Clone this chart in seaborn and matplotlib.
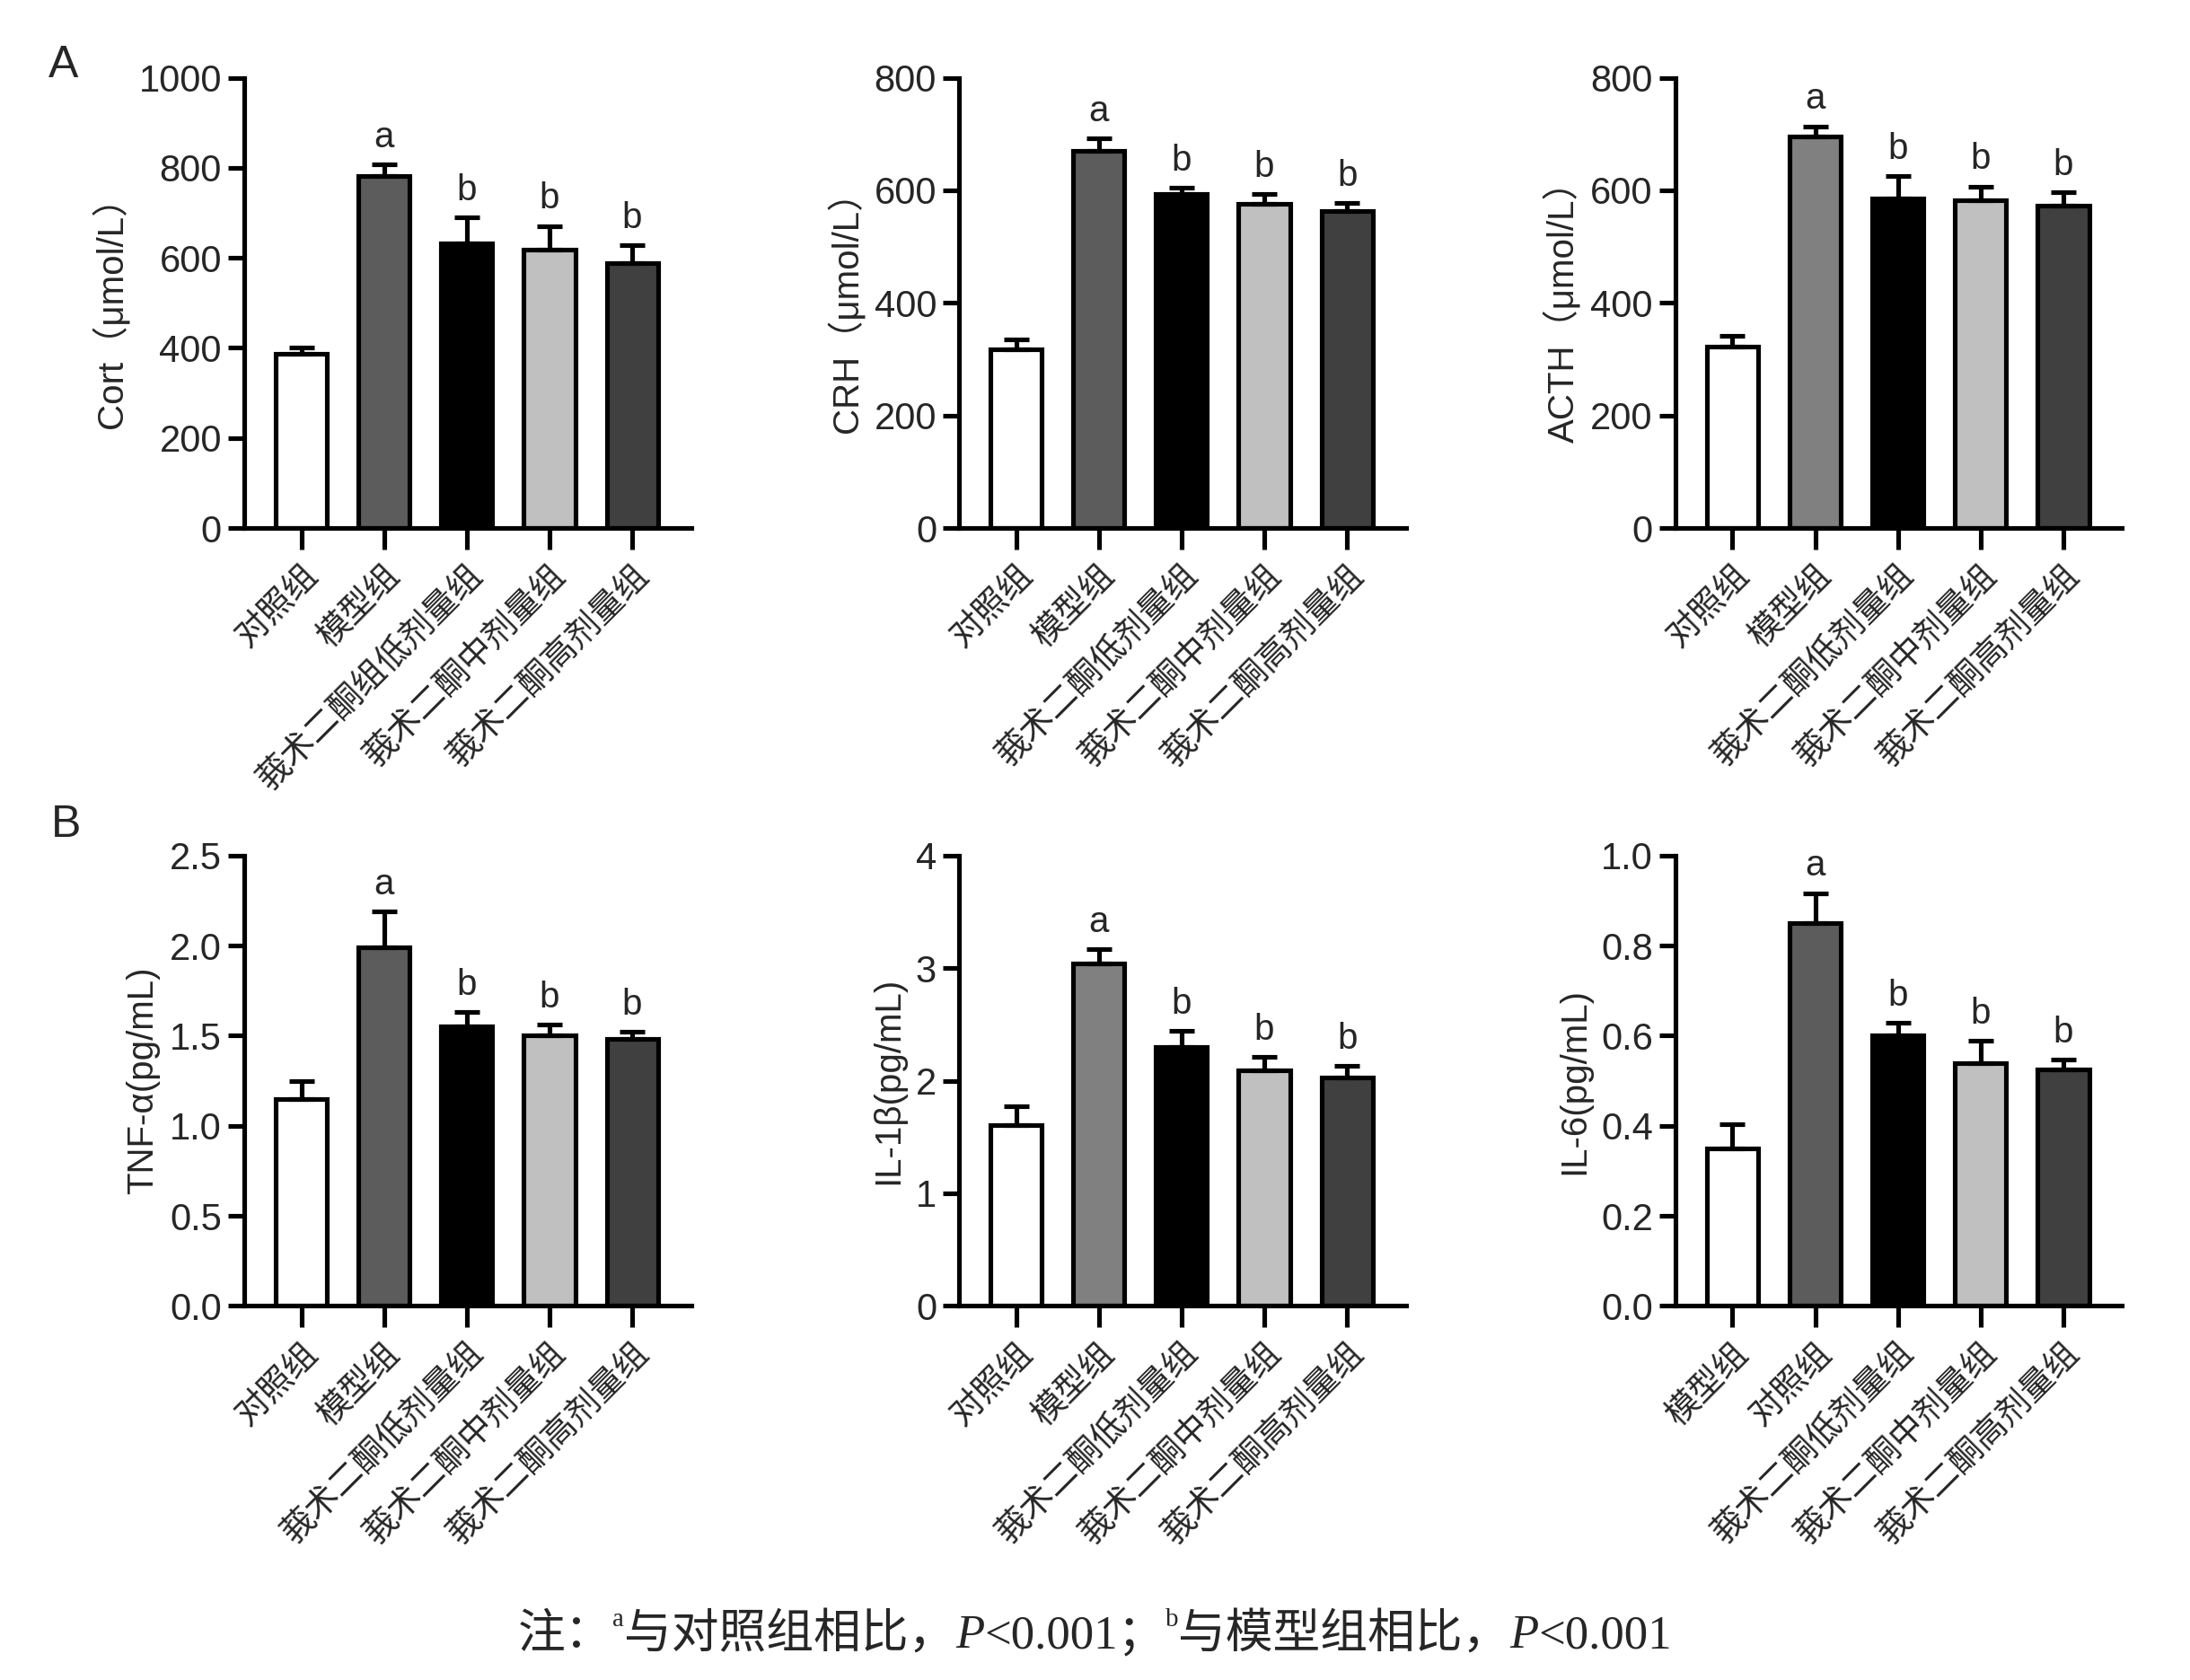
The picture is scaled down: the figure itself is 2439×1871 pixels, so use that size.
import numpy as np
import pandas as pd
import matplotlib
matplotlib.use("Agg")
import matplotlib.pyplot as plt
import seaborn as sns

# ---------------- data ----------------
groups_std = ["对照组", "模型组", "莪术二酮低剂量组", "莪术二酮中剂量组", "莪术二酮高剂量组"]
groups_cort = ["对照组", "模型组", "莪术二酮组低剂量组", "莪术二酮中剂量组", "莪术二酮高剂量组"]
groups_il6 = ["模型组", "对照组", "莪术二酮低剂量组", "莪术二酮中剂量组", "莪术二酮高剂量组"]

cort_mean = [387, 782, 633, 618, 588]
cort_err = [13, 25, 57, 53, 40]
crh_mean = [318, 670, 593, 576, 564]
crh_err = [17, 23, 12, 18, 14]
acth_mean = [323, 695, 585, 583, 573]
acth_err = [19, 19, 41, 24, 24]
tnf_mean = [1.15, 1.99, 1.55, 1.50, 1.48]
tnf_err = [0.10, 0.20, 0.08, 0.06, 0.04]
il1b_mean = [1.61, 3.04, 2.30, 2.09, 2.03]
il1b_err = [0.16, 0.13, 0.14, 0.12, 0.10]
il6_mean = [0.35, 0.85, 0.60, 0.54, 0.525]
il6_err = [0.053, 0.067, 0.029, 0.049, 0.022]

sig_letters = ["", "a", "b", "b", "b"]

ylabels = ["Cort（μmol/L）", "CRH（μmol/L）", "ACTH（μmol/L）",
           "TNF-α(pg/mL)", "IL-1β(pg/mL)", "IL-6(pg/mL)"]
ylims = [1000, 800, 800, 2.5, 4, 1.0]
ysteps = [200, 200, 200, 0.5, 1, 0.2]
yfmts = ["{:.0f}", "{:.0f}", "{:.0f}", "{:.1f}", "{:.0f}", "{:.1f}"]

pal_dark = ["#ffffff", "#5c5c5c", "#000000", "#c0c0c0", "#404040"]
pal_light = ["#ffffff", "#808080", "#000000", "#c0c0c0", "#404040"]

panels = [
    (groups_cort, cort_mean, cort_err, pal_dark),
    (groups_std, crh_mean, crh_err, pal_dark),
    (groups_std, acth_mean, acth_err, pal_light),
    (groups_std, tnf_mean, tnf_err, pal_dark),
    (groups_std, il1b_mean, il1b_err, pal_light),
    (groups_il6, il6_mean, il6_err, pal_dark),
]

# ---------------- style ----------------
sns.set_style("ticks")
plt.rcParams["font.family"] = ["Liberation Sans", "Noto Sans CJK SC", "DejaVu Sans"]

W, H = 2439, 1871
fig = plt.figure(figsize=(W / 100, H / 100), dpi=100)

lefts = [0.1115, 0.4379, 0.765]
width = 0.204
bottoms = [0.6857, 0.2227]
height = 0.268

LW = 3.7
for i, (cats, vals, errs, pal) in enumerate(panels):
    r, c = divmod(i, 3)
    ax = fig.add_axes([lefts[c], bottoms[r], width, height])
    df = pd.DataFrame({"group": cats, "value": vals})
    sns.barplot(data=df, x="group", y="value", hue="group", palette=pal,
                legend=False, width=0.62, edgecolor="black", linewidth=LW,
                saturation=1, errorbar=None, ax=ax, zorder=2)
    xs = np.arange(len(cats))
    ax.errorbar(xs, vals, yerr=[np.zeros(len(vals)), errs], fmt="none",
                ecolor="black", elinewidth=LW, capsize=10, capthick=LW, zorder=3)
    for x, v, e, s in zip(xs, vals, errs, sig_letters):
        if s:
            ax.annotate(s, (x, v + e), xytext=(0, 8), textcoords="offset points",
                        ha="center", va="bottom", fontsize=29)
    ax.set_xlim(-0.69, 4.71)
    ax.set_ylim(0, ylims[i])
    ticks = np.arange(0, ylims[i] + ysteps[i] / 2, ysteps[i])
    ax.set_yticks(ticks)
    ax.set_yticklabels([yfmts[i].format(t) for t in ticks], fontsize=30)
    ax.set_xticks(xs)
    ax.set_xticklabels(cats, rotation=45, ha="right", rotation_mode="anchor",
                       fontsize=27)
    ax.set_xlabel("")
    ax.set_ylabel(ylabels[i], fontsize=29, labelpad=8)
    for sp in ["top", "right"]:
        ax.spines[sp].set_visible(False)
    for sp in ["left", "bottom"]:
        ax.spines[sp].set_linewidth(LW)
        ax.spines[sp].set_color("black")
    ax.tick_params(axis="y", direction="out", length=13, width=LW,
                   color="black", pad=5)
    ax.tick_params(axis="x", direction="out", length=17, width=LW,
                   color="black", pad=8)

fig.text(0.029, 0.961, "A", fontsize=36, va="center", ha="center")
fig.text(0.030, 0.509, "B", fontsize=36, va="center", ha="center")

# ---------------- caption ----------------
cjk = ["Liberation Serif", "Noto Sans CJK SC"]
cap_fs = 38
pieces = [
    ("注：", dict(family=cjk, size=cap_fs), 0),
    ("a", dict(family=cjk, size=cap_fs * 0.55), 0.013),
    ("与对照组相比，", dict(family=cjk, size=cap_fs), 0),
    ("P", dict(family=cjk, size=cap_fs, style="italic"), 0),
    ("<0.001；", dict(family=cjk, size=cap_fs), 0),
    ("b", dict(family=cjk, size=cap_fs * 0.55), 0.013),
    ("与模型组相比，", dict(family=cjk, size=cap_fs), 0),
    ("P", dict(family=cjk, size=cap_fs, style="italic"), 0),
    ("<0.001", dict(family=cjk, size=cap_fs), 0),
]
fig.canvas.draw()
renderer = fig.canvas.get_renderer()
y0 = 0.019
texts = []
for s, kw, dy in pieces:
    t = fig.text(0, y0 + dy, s, va="baseline", ha="left", **kw)
    texts.append(t)
widths = [t.get_window_extent(renderer).width / W for t in texts]
total = sum(widths)
x = 0.5 - total / 2
for t, w in zip(texts, widths):
    t.set_x(x)
    x += w

fig.savefig("out.png", dpi=100)
